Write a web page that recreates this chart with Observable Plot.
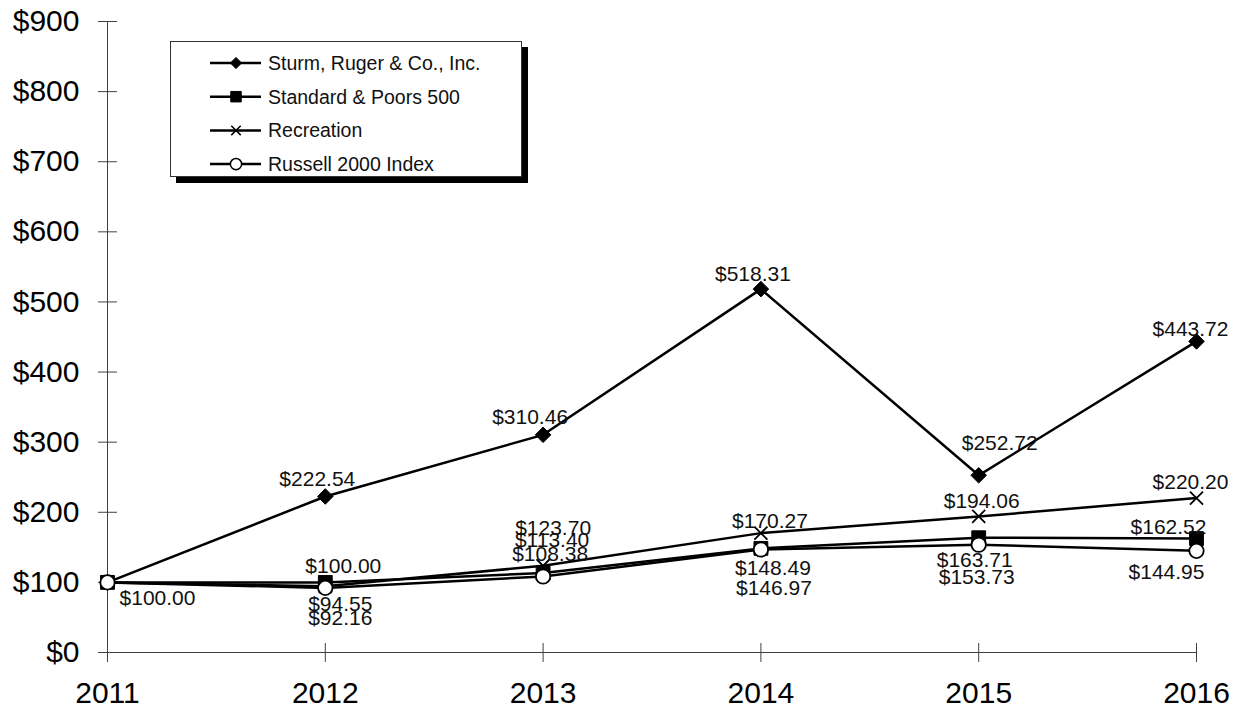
<!DOCTYPE html>
<html>
<head>
<meta charset="utf-8">
<script src="https://cdn.jsdelivr.net/npm/d3@7"></script>
<script src="https://cdn.jsdelivr.net/npm/@observablehq/plot@0.6"></script>
<style>
  html, body { margin: 0; padding: 0; background: #fff; }
  #wrap { position: relative; width: 1246px; height: 711px; font-family: "Liberation Sans", Arial, sans-serif; }
  #legend { position: absolute; left: 170px; top: 41px; width: 350px; height: 134px; border: 1px solid #333; background: #fff; box-shadow: 6px 6px 0 #000; }
</style>
</head>
<body>
<div id="wrap"><div id="legend"></div></div>
<script>
// ---- data ----
const years = [2011, 2012, 2013, 2014, 2015, 2016];
const ruger = [100, 222.54, 310.46, 518.31, 252.72, 443.72];
const sp500 = [100, 100.00, 113.40, 148.49, 163.71, 162.52];
const recreation = [100, 94.55, 123.70, 170.27, 194.06, 220.20];
const russell = [100, 92.16, 108.38, 146.97, 153.73, 144.95];
const seriesNames = ["Sturm, Ruger & Co., Inc.", "Standard & Poors 500", "Recreation", "Russell 2000 Index"];
const yTicks = [0, 100, 200, 300, 400, 500, 600, 700, 800, 900];

// ---- layout (label placement, pixels) ----
const labelOffsets = [
  [[50, 16], [-8, -17], [-13, -18], [-8, -15], [21, -32], [-6, -12]],
  [null, [18, -16], [9, -33], [12, 20], [-4, 23], [-28, -11]],
  [null, [15, 18], [10, -38], [9, -12], [3, -15], [-6, -16]],
  [null, [15, 30], [7, -22], [13, 39], [-2, 33], [-30, 21]]
];

const seriesValues = [ruger, sp500, recreation, russell];
const table = seriesValues.flatMap((vals, s) => years.map((year, i) => ({series: seriesNames[s], year, value: vals[i], s, i})));
const bySeries = s => table.filter(d => d.s === s);
const fmt = d3.format("$,.2f");

const labelMarks = [];
table.forEach(d => {
  const off = labelOffsets[d.s][d.i];
  if (!off) return;
  labelMarks.push(Plot.text([d], {x: "year", y: "value", text: d => fmt(d.value), dx: off[0], dy: off[1], fontSize: 21, fill: "#111", textAnchor: "middle", lineAnchor: "middle"}));
});

const axisColor = "#404040";
const chart = Plot.plot({
  width: 1246,
  height: 711,
  marginLeft: 107,
  marginRight: 50,
  marginTop: 21,
  marginBottom: 59,
  style: {fontFamily: "'Liberation Sans', Arial, sans-serif", fontSize: "20px", background: "white", color: "black", overflow: "visible"},
  x: {domain: [years[0], years[years.length - 1]]},
  y: {domain: [yTicks[0], yTicks[yTicks.length - 1]]},
  marks: [
    Plot.ruleX([years[0]], {stroke: axisColor}),
    Plot.ruleY([yTicks[0]], {stroke: axisColor}),
    Plot.axisY(yTicks, {tickSize: 19, dx: 10, stroke: axisColor, fill: "none", label: null}),
    Plot.axisY(yTicks, {tickSize: 0, tickPadding: 28, tickFormat: d => "$" + d, fontSize: 30, fill: "black", label: null}),
    Plot.axisX(years, {tickSize: 19, dy: -9, stroke: axisColor, fill: "none", label: null}),
    Plot.axisX(years, {tickSize: 0, tickPadding: 29, tickFormat: d => String(d), fontSize: 30, fill: "black", label: null}),
    Plot.line(table, {x: "year", y: "value", z: "series", stroke: "black", strokeWidth: 2.5}),
    Plot.dot(bySeries(0), {x: "year", y: "value", symbol: "diamond2", r: 7, fill: "black", stroke: "black", strokeWidth: 1}),
    Plot.dot(bySeries(1), {x: "year", y: "value", symbol: "square", r: 7.8, fill: "black", stroke: "black", strokeWidth: 1}),
    Plot.dot(bySeries(2), {x: "year", y: "value", symbol: "times", r: 6, fill: "none", stroke: "black", strokeWidth: 1.8}),
    Plot.dot(bySeries(3), {x: "year", y: "value", symbol: "circle", r: 7.2, fill: "white", stroke: "black", strokeWidth: 1.8}),
    ...labelMarks
  ]
});
document.getElementById("wrap").prepend(chart);

// ---- legend ----
const legendSymbols = [
  {type: d3.symbolDiamond2, size: 80, fill: "black", stroke: "black", sw: 1},
  {type: d3.symbolSquare, size: 110, fill: "black", stroke: "black", sw: 1},
  {type: d3.symbolTimes, size: 60, fill: "none", stroke: "black", sw: 1.5},
  {type: d3.symbolCircle, size: 100, fill: "white", stroke: "black", sw: 1.5}
];
const lg = d3.select("#legend").append("svg").attr("width", 350).attr("height", 134);
seriesNames.forEach((name, i) => {
  const cy = 21 + i * 33.7;
  const g = lg.append("g").attr("transform", `translate(0,${cy})`);
  g.append("line").attr("x1", 39).attr("x2", 90).attr("y1", 0).attr("y2", 0).attr("stroke", "black").attr("stroke-width", 2.5);
  const sym = legendSymbols[i];
  g.append("path").attr("transform", "translate(65,0)").attr("d", d3.symbol(sym.type, sym.size)()).attr("fill", sym.fill).attr("stroke", sym.stroke).attr("stroke-width", sym.sw);
  g.append("text").attr("x", 97).attr("y", 0).attr("dy", "0.35em").attr("font-size", 19.5).attr("font-family", "'Liberation Sans', Arial, sans-serif").attr("fill", "#111").text(name);
});
</script>
</body>
</html>
